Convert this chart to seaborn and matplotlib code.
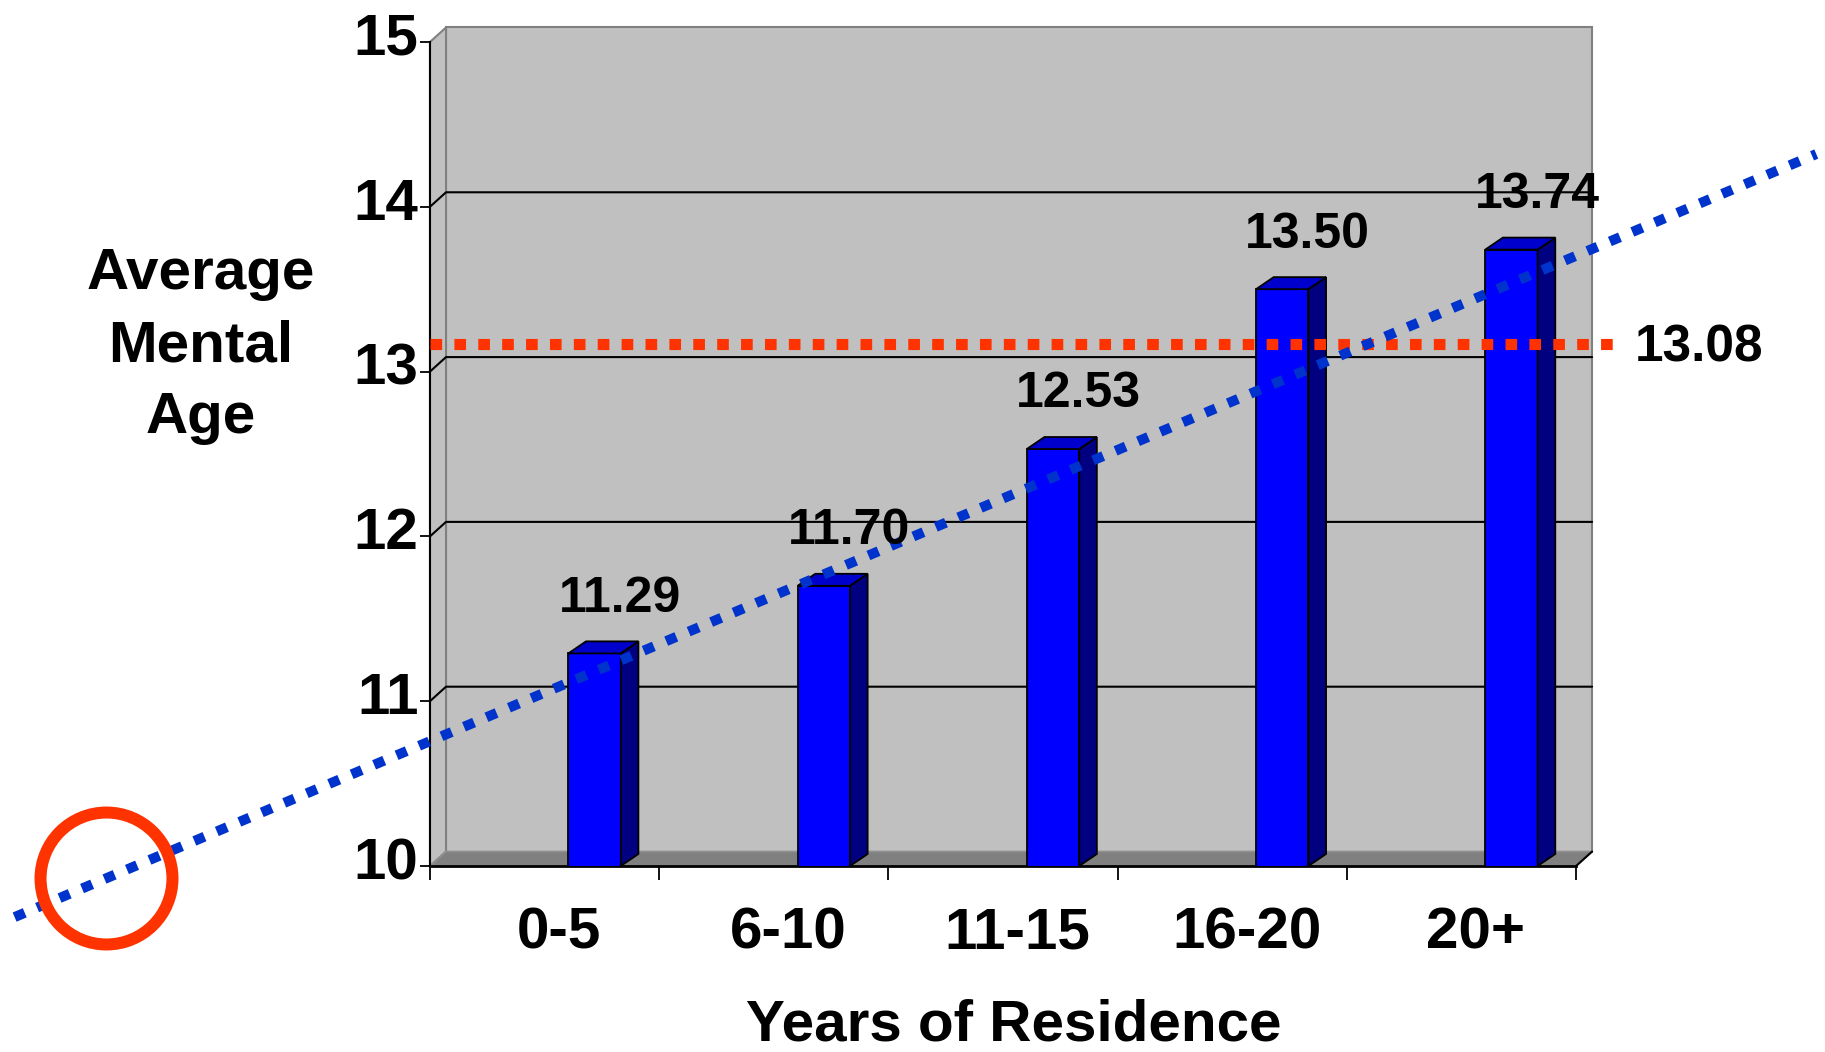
import numpy as np
import pandas as pd
import matplotlib
matplotlib.use("Agg")
import matplotlib.pyplot as plt
import matplotlib.transforms as mtransforms
from matplotlib.patches import Polygon
import seaborn as sns

# ---------------- data ----------------
categories = ["0-5", "6-10", "11-15", "16-20", "20+"]
mental_age = [11.29, 11.70, 12.53, 13.50, 13.74]
value_labels = ["11.29", "11.70", "12.53", "13.50", "13.74"]
y_ticks = [10, 11, 12, 13, 14, 15]
average_value = 13.08
average_label = "13.08"
trend_x = [-2.53, 5.33]
trend_y = [9.69, 14.32]
circle_x = -2.13
x_title = "Years of Residence"
y_title = "Average\nMental\nAge"

# ---------------- style ----------------
sns.set_style("white")
plt.rcParams["font.family"] = ["Liberation Sans", "DejaVu Sans"]
plt.rcParams["font.weight"] = "bold"
plt.rcParams["text.color"] = "black"
plt.rcParams["axes.labelcolor"] = "black"
plt.rcParams["xtick.color"] = "black"
plt.rcParams["ytick.color"] = "black"
plt.rcParams["xtick.labelcolor"] = "black"
plt.rcParams["ytick.labelcolor"] = "black"

fig = plt.figure(figsize=(18.25, 10.52), dpi=100)
ax = fig.add_axes([0.2356, 0.1768, 0.6280, 0.7833])
ax.set_facecolor("none")

df = pd.DataFrame({"Years": categories, "Age": mental_age})
sns.barplot(data=df, x="Years", y="Age", color="#0000FF", saturation=1,
            width=0.2286, edgecolor="black", linewidth=1.3, ax=ax, zorder=2)
bars = list(ax.patches)

# 3-D frame geometry (axes units)
x0, x1 = -0.718, 4.282
y0, y1 = y_ticks[0], y_ticks[-1]
wdx, wdy = 0.070, 0.088      # back-wall depth offset
bdx, bdy = 0.077, 0.073      # bar depth offset
ax.set_xlim(x0, x1)
ax.set_ylim(y0, y1)

wall = Polygon([(x0 + wdx, y0 + wdy), (x1 + wdx, y0 + wdy),
                (x1 + wdx, y1 + wdy), (x0 + wdx, y1 + wdy)],
               closed=True, facecolor="#C0C0C0", edgecolor="#808080",
               lw=1.5, zorder=0.1, clip_on=False)
side = Polygon([(x0, y0), (x0 + wdx, y0 + wdy), (x0 + wdx, y1 + wdy), (x0, y1)],
               closed=True, facecolor="#C0C0C0", edgecolor="#808080",
               lw=1.5, zorder=0.15, clip_on=False)
floor = Polygon([(x0, y0), (x1, y0), (x1 + wdx, y0 + wdy), (x0 + wdx, y0 + wdy)],
                closed=True, facecolor="#808080", edgecolor="#909090",
                lw=1.2, zorder=0.2, clip_on=False)
for poly in (wall, side, floor):
    ax.add_patch(poly)
ax.plot([x1, x1 + wdx], [y0, y0 + wdy], color="black", lw=1.5, zorder=0.3, clip_on=False)

for t in y_ticks[1:-1]:
    ax.plot([x0, x0 + wdx, x1 + wdx], [t, t + wdy, t + wdy], color="black",
            lw=1.5, zorder=0.5, clip_on=False)

# bars: side and top faces + labels
for p, lab in zip(bars, value_labels):
    bx, bw = p.get_x(), p.get_width()
    top = p.get_y() + p.get_height()
    side_face = Polygon([(bx + bw, y0), (bx + bw + bdx, y0 + bdy),
                         (bx + bw + bdx, top + bdy), (bx + bw, top)],
                        closed=True, facecolor="#000080", edgecolor="black",
                        lw=1.3, zorder=2, clip_on=False)
    top_face = Polygon([(bx, top), (bx + bw, top), (bx + bw + bdx, top + bdy),
                        (bx + bdx, top + bdy)],
                       closed=True, facecolor="#0000CC", edgecolor="black",
                       lw=1.3, zorder=2, clip_on=False)
    ax.add_patch(side_face)
    ax.add_patch(top_face)
    ax.annotate(lab, (bx + bw / 2, top), xytext=(18.4, 30),
                textcoords="offset points", ha="center", va="baseline",
                fontsize=36, fontweight="bold", color="black", zorder=6,
                annotation_clip=False)

# average line
avg_end = 4.457
ax.plot([x0, avg_end], [average_value + wdy] * 2, color="#FF3300", lw=8,
        dashes=(1.05, 1.1), dash_capstyle="butt", clip_on=False, zorder=3)
ax.annotate(average_label, (avg_end, average_value + wdy), xytext=(13.7, -12.6),
            textcoords="offset points", ha="left", va="baseline",
            fontsize=37, fontweight="bold", color="black",
            annotation_clip=False, zorder=6)

# trend line and circle
ax.plot(trend_x, trend_y, color="#0033CC", lw=7.2, dashes=(1.1, 1.34),
        dash_capstyle="butt", clip_on=False, zorder=4)
circle_y = np.interp(circle_x, trend_x, trend_y)
ax.plot([circle_x], [circle_y], marker="o", ms=95, mfc="none", mec="#FF3300",
        mew=8.64, clip_on=False, zorder=5)

# spines
for s in ("top", "right"):
    ax.spines[s].set_visible(False)
ax.spines["left"].set_color("black")
ax.spines["left"].set_linewidth(1.5)
ax.spines["bottom"].set_color("black")
ax.spines["bottom"].set_linewidth(2)
ax.spines["left"].set_zorder(0.6)
ax.spines["bottom"].set_zorder(0.6)

# ticks
ax.set_yticks(y_ticks)
ax.set_yticklabels([str(t) for t in y_ticks])
ax.tick_params(axis="y", direction="out", length=7.2, width=1.3, pad=1,
               labelsize=42, color="black", labelcolor="black", left=True)
shift = mtransforms.ScaledTranslation(0, 8 / 100, fig.dpi_scale_trans)
for lbl in ax.get_yticklabels():
    lbl.set_transform(lbl.get_transform() + shift)
    lbl.set_fontweight("bold")

ax.set_xticks(np.arange(len(categories)) - 0.155, labels=categories)
ax.set_xticks(np.arange(len(categories) + 1) + x0, minor=True)
ax.tick_params(axis="x", which="major", length=0, pad=28.8, labelsize=42,
               labelcolor="black")
ax.tick_params(axis="x", which="minor", direction="out", length=10, width=1.3,
               color="black", bottom=True)
for lbl in ax.get_xticklabels():
    lbl.set_fontweight("bold")

ax.set_xlabel(x_title, fontsize=42, fontweight="bold", va="baseline", color="black")
ax.xaxis.set_label_coords(0.5096, -0.2112)
ax.set_ylabel(y_title, fontsize=42, fontweight="bold", rotation=0, ha="center",
              va="center", multialignment="center", linespacing=1.43, color="black")
ax.yaxis.set_label_coords(-0.1998, 0.631)

fig.savefig("out.png", dpi=100)
